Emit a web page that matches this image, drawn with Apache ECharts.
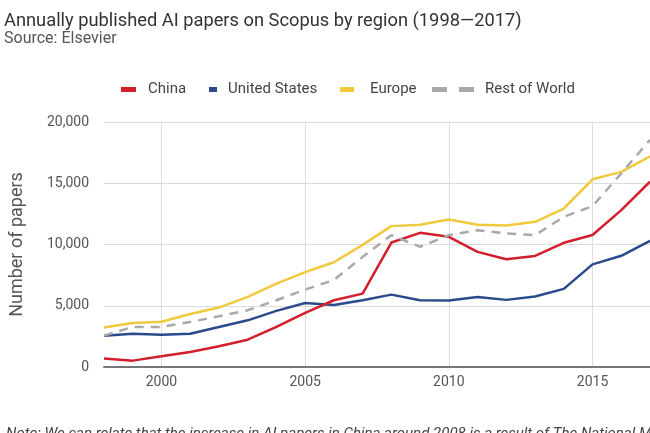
<!DOCTYPE html>
<html>
<head>
<meta charset="utf-8">
<script src="https://cdn.jsdelivr.net/npm/echarts@6/dist/echarts.min.js"></script>
<style>
html,body{margin:0;padding:0;background:#fff;}
#chart{width:650px;height:433px;}
</style>
</head>
<body>
<div id="chart"></div>
<script>
const years = ['1998','1999','2000','2001','2002','2003','2004','2005','2006','2007','2008','2009','2010','2011','2012','2013','2014','2015','2016','2017'];
const china  = [700, 520, 870, 1230, 1690, 2230, 3270, 4410, 5450, 5990, 10160, 10950, 10630, 9400, 8800, 9070, 10140, 10770, 12810, 15130];
const us     = [2560, 2720, 2640, 2720, 3270, 3810, 4580, 5230, 5070, 5450, 5910, 5450, 5420, 5720, 5480, 5750, 6380, 8380, 9080, 10300];
const europe = [3220, 3600, 3700, 4330, 4850, 5720, 6810, 7740, 8550, 9970, 11500, 11610, 12040, 11610, 11550, 11850, 12920, 15320, 15930, 17200];
const rest   = [2560, 3270, 3270, 3680, 4140, 4630, 5450, 6320, 7100, 8990, 10760, 9810, 10760, 11170, 10900, 10760, 12260, 13130, 15800, 18550];
const yTicks = [0, 5000, 10000, 15000, 20000];

const titleText = 'Annually published AI papers on Scopus by region (1998\u20142017)';
const subText = 'Source: Elsevier';
const noteText = 'Note: We can relate that the increase in AI papers in China around 2008 is a result of The National Medium- and Long-Term Plan';

const C = {china:'#d21f2b', us:'#2b4a8b', europe:'#f0c93c', rest:'#a9a9a9'};
const FONT = 'Roboto';

function mkLegend(name, left, w, icon, gap){
  return {
    left: left, top: 77, padding: [5, 0, 5, 0], itemWidth: w, itemHeight: 5,
    icon: icon,
    data: [name],
    itemStyle: {borderWidth: 0},
    textStyle: {fontFamily: FONT, fontSize: 15, color: '#444', padding: [0,0,0,gap]},
    selectedMode: false
  };
}

const chart = echarts.init(document.getElementById('chart'), null, {renderer:'canvas'});
chart.setOption({
  backgroundColor: '#fff',
  animation: false,
  title: {
    text: titleText, subtext: subText, left: -1, top: 7, itemGap: 1,
    textStyle: {fontFamily: FONT, fontSize: 18.3, fontWeight: 'normal', color: '#333'},
    subtextStyle: {fontFamily: FONT, fontSize: 16, color: '#555'}
  },
  legend: [
    mkLegend('China', 121, 15, 'rect', 7),
    mkLegend('United States', 209, 8, 'rect', 6),
    mkLegend('Europe', 340, 14, 'rect', 11),
    mkLegend('Rest of World', 432, 42, 'path://M0,0H15V5H0Z M27,0H42V5H27Z', 6)
  ],
  grid: {left: 104, right: -4, top: 122, bottom: 66, containLabel: false},
  xAxis: {
    type: 'category', data: years, boundaryGap: false,
    axisLine: {lineStyle: {color: '#777', width: 2}},
    axisTick: {show: false},
    axisLabel: {
      fontFamily: FONT, fontSize: 14, color: '#555', margin: 8,
      interval: function(i, v){ return Number(v) % 5 === 0; }
    },
    splitLine: {show: true, interval: function(i, v){ return Number(v) % 5 === 0; }, lineStyle: {color: '#dcdcdc', width: 1}}
  },
  yAxis: {
    type: 'value', min: yTicks[0], max: yTicks[yTicks.length-1], interval: yTicks[1]-yTicks[0],
    name: 'Number of papers', nameLocation: 'middle', nameGap: 78,
    nameTextStyle: {fontFamily: FONT, fontSize: 18, color: '#555'},
    axisLine: {show: false}, axisTick: {show: false},
    axisLabel: {fontFamily: FONT, fontSize: 14, color: '#555', margin: 15,
      formatter: function(v){ return v.toLocaleString('en-US'); }},
    splitLine: {lineStyle: {color: '#dcdcdc', width: 1}}
  },
  graphic: [{
    type: 'text', left: 6, top: 427, silent: true,
    style: {text: noteText, fontFamily: FONT, fontSize: 15, fontStyle: 'italic', fill: '#444'}
  }],
  series: [
    {name: 'China', type: 'line', data: china, symbol: 'none', color: C.china, lineStyle: {width: 2.5, color: C.china}, z: 4},
    {name: 'United States', type: 'line', data: us, symbol: 'none', color: C.us, lineStyle: {width: 2.5, color: C.us}, z: 3},
    {name: 'Europe', type: 'line', data: europe, symbol: 'none', color: C.europe, lineStyle: {width: 2.5, color: C.europe}, z: 2},
    {name: 'Rest of World', type: 'line', data: rest, symbol: 'none', color: C.rest, lineStyle: {width: 2.5, color: C.rest, type: [9, 7]}, z: 5}
  ]
});
</script>
</body>
</html>
